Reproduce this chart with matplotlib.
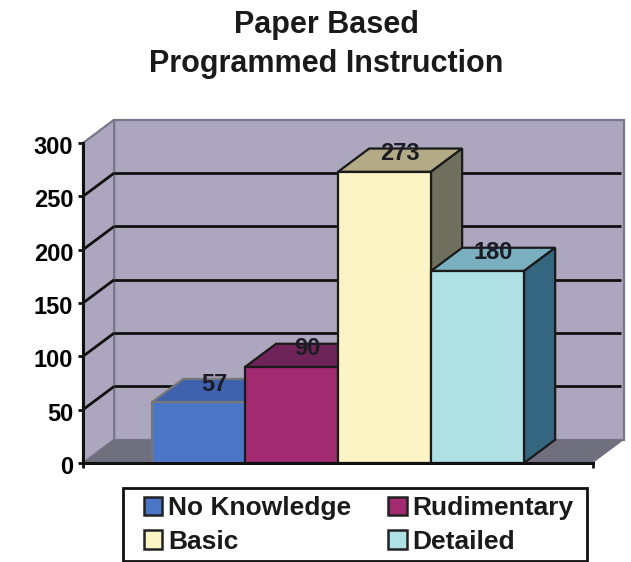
import matplotlib
matplotlib.use('Agg')
import matplotlib.pyplot as plt
from matplotlib.patches import Polygon, Patch, Rectangle
from matplotlib.transforms import ScaledTranslation

plt.rcParams['font.family'] = ['Liberation Sans', 'DejaVu Sans']
plt.rcParams['font.weight'] = 'bold'

categories = ['No Knowledge', 'Rudimentary', 'Basic', 'Detailed']
values = [57, 90, 273, 180]
yticks = [0, 50, 100, 150, 200, 250, 300]

front_colors = ['#4b75c6', '#a22a70', '#fdf4c6', '#aee0e4']
top_colors = ['#3e62ae', '#6e2459', '#b3ab86', '#79afbe']
side_colors = ['#2f4a80', '#571c46', '#6f6f5e', '#35667f']

WALL = '#aca7bf'
FLOOR = '#6f6f7d'
EDGE = '#77778a'

# depth of the fake 3D box, in data units
DX = 0.335
DY = 21.8

fig = plt.figure(figsize=(6.31, 5.62), dpi=100)
ax = fig.add_axes([83 / 631, 1 - 463 / 562, 510 / 631, 320 / 562])
ax.set_xlim(-1.242, 4.242)
ax.set_ylim(0, 300)
x0, x1 = ax.get_xlim()


def poly(pts, color, edge='none', lw=0, z=1):
    ax.add_patch(Polygon(pts, closed=True, facecolor=color, edgecolor=edge,
                         linewidth=lw, clip_on=False, zorder=z, joinstyle='miter'))


# walls and floor
poly([(x0 + DX, DY), (x1 + DX, DY), (x1 + DX, 300 + DY), (x0 + DX, 300 + DY)], WALL, EDGE, 1.6)
poly([(x0, 0), (x0 + DX, DY), (x0 + DX, 300 + DY), (x0, 300)], WALL, EDGE, 1.6)
poly([(x0, 0), (x1, 0), (x1 + DX, DY), (x0 + DX, DY)], FLOOR)

# gridlines run along the back wall and down the side wall
for t in yticks[1:-1]:
    ax.plot([x0 + DX, x1 + DX - 0.03], [t + DY, t + DY], color='#111111', lw=2.0,
            clip_on=False, zorder=2, solid_capstyle='butt')
    ax.plot([x0, x0 + DX], [t, t + DY], color='#111111', lw=2.0,
            clip_on=False, zorder=2, solid_capstyle='butt')

# bars, left to right so that each one covers the side of the previous
for i, v in enumerate(values):
    l, r = i - 0.5, i + 0.5
    edge = '#777777' if i == 0 else '#1a1a1a'
    z = 3 + i * 0.1
    poly([(l, v), (r, v), (r + DX, v + DY), (l + DX, v + DY)], top_colors[i], edge, 1.6, z)
    poly([(r, 0), (r + DX, DY), (r + DX, v + DY), (r, v)], side_colors[i], edge, 1.6, z)
    poly([(l, 0), (r, 0), (r, v), (l, v)], front_colors[i], edge, 1.6, z)

for i, v in enumerate(values):
    ax.text(i + DX / 2, v + 17, str(v), ha='center', va='center', fontsize=17,
            color='#1c1c24', zorder=5)

ax.set_yticks(yticks)
ax.set_xticks([x0, x1])
ax.set_xticklabels([])
ax.tick_params(axis='y', labelsize=17, width=2, length=3.5, pad=3.5, color='#111111')
ax.tick_params(axis='x', width=2, length=3.5, color='#111111')
# tick labels sit slightly below their ticks
nudge = ScaledTranslation(0, -0.02, fig.dpi_scale_trans)
for lab in ax.get_yticklabels():
    lab.set_transform(lab.get_transform() + nudge)
ax.patch.set_visible(False)
for s in ['top', 'right']:
    ax.spines[s].set_visible(False)
for s in ['left', 'bottom']:
    ax.spines[s].set_linewidth(2.2)
    ax.spines[s].set_color('#111111')
    ax.spines[s].set_zorder(6)

fig.text(326 / 631, 1 - 25 / 562, 'Paper Based', ha='center', va='center', fontsize=22, color='#1a1a1a')
fig.text(326 / 631, 1 - 64 / 562, 'Programmed Instruction', ha='center', va='center', fontsize=22, color='#1a1a1a')

# legend frame is separate so the text block can keep its own inset
fig.add_artist(Rectangle((123 / 631, 1 - 561 / 562), 464 / 631, 73 / 562, transform=fig.transFigure,
                         facecolor='white', edgecolor='#111111', linewidth=2))
handles = [Patch(facecolor=c, edgecolor='#222222', linewidth=1.8) for c in front_colors]
# matplotlib fills legend columns first, so reorder for rows across
order = [0, 2, 1, 3]
leg = fig.legend([handles[i] for i in order], [categories[i] for i in order],
                 ncol=2, loc='center left',
                 bbox_to_anchor=(144 / 631, 1 - 525 / 562, 429 / 631, 0),
                 mode='expand', fontsize=19, frameon=False,
                 handlelength=0.7, handleheight=0.7,
                 handletextpad=0.2, labelspacing=0.36, borderpad=0, borderaxespad=0,
                 columnspacing=1.0, labelcolor='#1a1a1a')

fig.savefig('out.png', dpi=100, facecolor='white')
